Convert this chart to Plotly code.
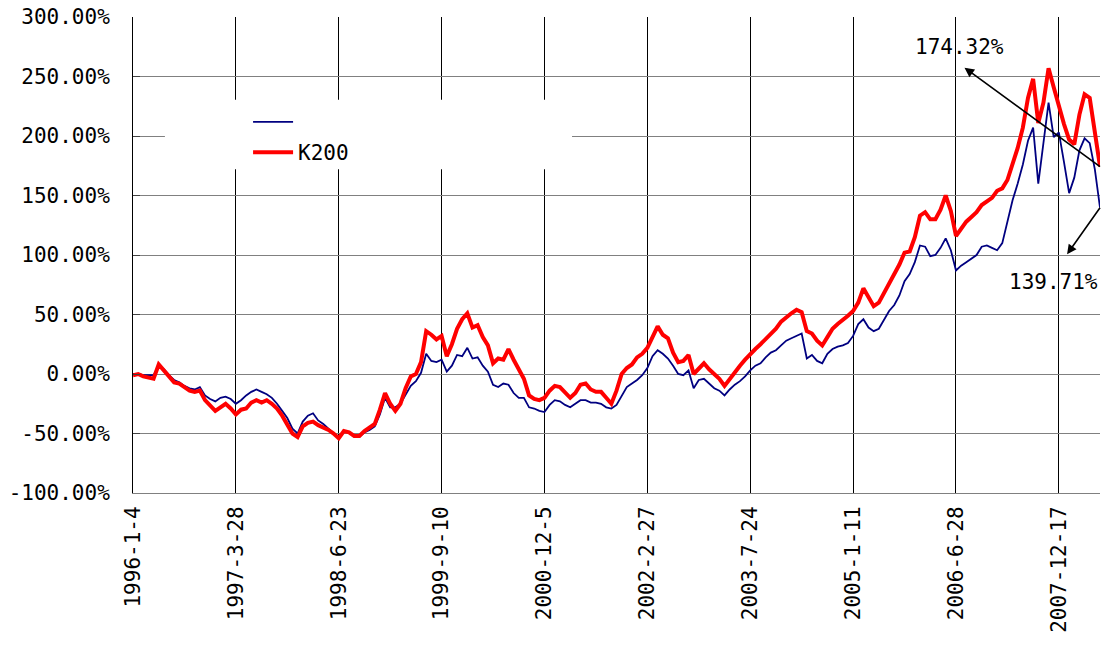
import plotly.graph_objects as go

# Tick labels of the category (trading-day) axis, one every 20 samples
tick_labels = ["1996-1-4", "1997-3-28", "1998-6-23", "1999-9-10", "2000-12-5",
               "2002-2-27", "2003-7-24", "2005-1-11", "2006-6-28", "2007-12-17"]
samples_per_tick = 20

# Cumulative return (%) - navy series (unnamed in the legend)
navy_vals = [
    0, 0, -1, -1, -1, 7, 4, -1, -5, -7,
    -10, -12, -13, -11, -18, -21, -23, -20, -19, -21,
    -25, -22, -18, -15, -13, -15, -17, -20, -25, -31,
    -37, -46, -50, -40, -35, -33, -39, -42, -46, -50,
    -53, -48, -49, -52, -53, -49, -47, -44, -34, -20,
    -28, -28, -25, -17, -10, -6, 1, 17, 11, 10,
    12, 2, 7, 16, 15, 22, 13, 14, 7, 2,
    -9, -11, -8, -9, -16, -20, -20, -28, -29, -31,
    -32, -26, -22, -23, -26, -28, -25, -22, -22, -24,
    -24, -25, -28, -29, -26, -18, -11, -8, -5, -1,
    5, 15, 20, 17, 13, 7, 0, -1, 3, -12,
    -5, -4, -8, -12, -14, -18, -13, -9, -6, -2,
    3, 7, 9, 14, 18, 20, 24, 28, 30, 32,
    34, 13, 16, 11, 9, 17, 21, 23, 24, 26,
    32, 42, 46, 39, 36, 38, 45, 53, 58, 66,
    78, 84, 94, 108, 107, 99, 100, 106, 114, 104,
    87, 91, 94, 97, 100, 107, 108, 106, 104, 110,
    127, 146, 160, 176, 196, 207, 160, 195, 228, 199,
    203, 178, 152, 165, 188, 198, 194, 172, 139.71,
]

# Cumulative return (%) - K200
k200_vals = [
    -1, 0, -2, -3, -4, 8, 3, -2, -7, -8,
    -11, -14, -15, -14, -22, -26, -31, -28, -25, -29,
    -34, -30, -29, -24, -22, -24, -22, -25, -29, -35,
    -42, -50, -53, -44, -41, -40, -43, -45, -47, -50,
    -54, -48, -49, -52, -52, -48, -45, -42, -30, -16,
    -25, -31, -25, -12, -2, 0, 10, 36, 33, 29,
    32, 15, 25, 38, 46, 51, 39, 41, 31, 24,
    9, 13, 12, 21, 12, 4, -4, -18, -21, -22,
    -20, -14, -10, -11, -16, -20, -16, -9, -8, -13,
    -15, -15, -20, -25, -14, 0, 5, 8, 14, 17,
    22, 32, 40, 33, 30, 18, 10, 11, 16, 0,
    4, 9, 4, 0, -4, -10, -4, 1, 7, 12,
    17, 21, 25, 29, 33, 38, 44, 48, 51, 54,
    52, 36, 34, 28, 24, 31, 38, 42, 45, 49,
    53, 60, 72, 65, 57, 60, 68, 76, 83, 92,
    102, 103, 115, 133, 136, 130, 130, 138, 150, 137,
    116, 122, 128, 132, 136, 142, 145, 148, 154, 156,
    163, 176, 190, 207, 232, 248, 211, 228, 257, 241,
    225, 210, 197, 193, 218, 235, 232, 203, 174.32,
]

y_tick_vals = [-100, -50, 0, 50, 100, 150, 200, 250, 300]
y_tick_text = ["-100.00%", "-50.00%", "0.00%", "50.00%", "100.00%",
               "150.00%", "200.00%", "250.00%", "300.00%"]

x_idx = list(range(len(k200_vals)))
tick_pos = [i * samples_per_tick for i in range(len(tick_labels))]

FONT = "DejaVu Sans Mono"

fig = go.Figure()
fig.add_trace(go.Scatter(x=x_idx, y=navy_vals, mode="lines", name=" ",
                         line=dict(color="#000080", width=1.8)))
fig.add_trace(go.Scatter(x=x_idx, y=k200_vals, mode="lines", name="K200",
                         line=dict(color="#FF0000", width=4)))

last = len(k200_vals) - 1
# arrows from the series end points towards the labels
fig.add_annotation(x=last, y=k200_vals[-1], ax=-137, ay=-100, text="",
                   showarrow=True, arrowside="start", arrowhead=2, startarrowhead=2,
                   arrowwidth=1.6, arrowcolor="black", arrowsize=1, startarrowsize=1.2)
fig.add_annotation(x=last, y=navy_vals[-1], ax=-34, ay=48, text="",
                   showarrow=True, arrowside="start", arrowhead=2, startarrowhead=2,
                   arrowwidth=1.6, arrowcolor="black", arrowsize=1, startarrowsize=1.2)
fig.add_annotation(x=last, y=k200_vals[-1], text=f"{k200_vals[-1]:.2f}%",
                   showarrow=False, xshift=-141, yshift=120,
                   font=dict(family=FONT, size=21, color="black"))
fig.add_annotation(x=last, y=navy_vals[-1], text=f"{navy_vals[-1]:.2f}%",
                   showarrow=False, xshift=-47, yshift=-74,
                   font=dict(family=FONT, size=21, color="black"))

# white legend area covering gridlines
fig.add_shape(type="rect", xref="paper", yref="paper",
              x0=0.033, x1=0.454, y0=0.68, y1=0.826,
              fillcolor="white", line=dict(width=0), layer="above")

fig.update_layout(
    width=1106, height=646,
    margin=dict(l=133, r=6, t=17, b=153, autoexpand=False),
    paper_bgcolor="white", plot_bgcolor="white",
    font=dict(family=FONT, size=21, color="black"),
    showlegend=True,
    legend=dict(x=0.119, y=0.822, xanchor="left", yanchor="top",
                bgcolor="rgba(0,0,0,0)", font=dict(family=FONT, size=21),
                itemwidth=40),
    hovermode=False,
)
fig.update_xaxes(
    range=[0, last], tickmode="array", tickvals=tick_pos, ticktext=tick_labels,
    tickangle=-90, showgrid=True, gridcolor="black", gridwidth=1,
    showline=True, linecolor="#808080", linewidth=1, ticks="", zeroline=False,
    tickfont=dict(family=FONT, size=21), ticklabelstandoff=4,
)
fig.update_yaxes(
    range=[-100, 300], tickmode="array", tickvals=y_tick_vals, ticktext=y_tick_text,
    showgrid=True, gridcolor="#808080", gridwidth=1,
    showline=True, linecolor="black", linewidth=1,
    ticks="inside", ticklen=7, tickcolor="#404040", zeroline=False,
    tickfont=dict(family=FONT, size=21), ticklabelstandoff=18,
)

fig.write_html("out.html", config={"displayModeBar": False},
               post_script="document.body.style.margin='0';document.body.style.overflow='hidden';")
